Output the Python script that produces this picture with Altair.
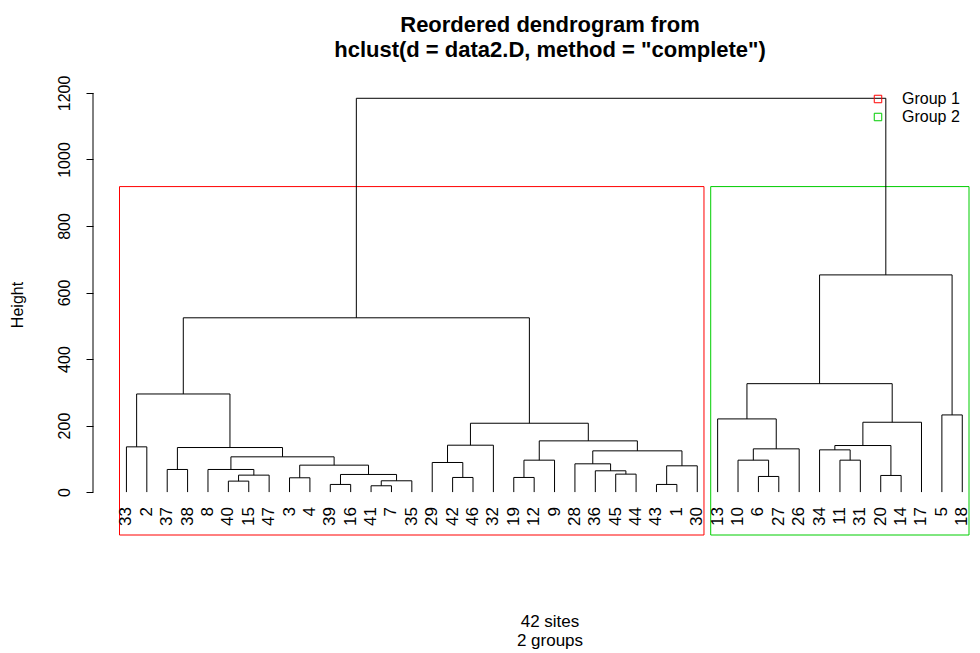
import altair as alt
import pandas as pd

# ---- data ----
leaf_order = [33, 2, 37, 38, 8, 40, 15, 47, 3, 4, 39, 16, 41, 7, 35, 29, 42, 46, 32,
              19, 12, 9, 28, 36, 45, 44, 43, 1, 30, 13, 10, 6, 27, 26, 34, 11, 31, 20,
              14, 17, 5, 18]

# R-style merge table: negative = leaf (site number), positive = earlier merge index
merge_left = [-41, -39, -43, -40, 1, -3, -42, -19, -6, -20, 4, 2, -45, -36, -37, -8, 3,
              6, -28, -29, 8, -10, -11, 16, 19, -34, 22, -33, 15, 26, 20, 21, 31, 30,
              -13, -5, 28, 35, 37, 38, 39]
merge_right = [-7, -16, -1, -15, -35, -4, -46, -12, -27, -14, -47, 5, -44, 13, -38, 11,
               -30, 12, 14, 7, -9, 9, -31, 18, 17, 23, -26, -2, 24, 10, -32, 25, 32,
               -17, 27, -18, 29, 34, 33, 36, 40]
merge_height = [19, 23, 23, 33, 34, 43, 44, 44, 47, 50, 51, 53, 54, 64, 68, 68, 79, 81,
                85, 89, 96, 96, 96, 106, 124, 127, 130, 136, 134, 140, 141, 154, 207,
                210, 220, 232, 295, 326, 524, 653, 1184]

group_names = ["Group 1", "Group 2"]
group_sizes = [29, 13]
group_colors = ["#FF0000", "#00CD00"]
y_ticks = [0, 200, 400, 600, 800, 1000, 1200]
title_lines = ["Reordered dendrogram from", 'hclust(d = data2.D, method = "complete")']
sub_lines = ["42 sites", "2 groups"]

# ---- build dendrogram segments from the merge table ----
pos = {leaf: i + 1 for i, leaf in enumerate(leaf_order)}
node_x, node_h = {}, {}
segs = []


def child(c):
    if c < 0:
        return pos[-c], 0.0
    return node_x[c], node_h[c]


for k, (l, r, h) in enumerate(zip(merge_left, merge_right, merge_height), start=1):
    xl, hl = child(l)
    xr, hr = child(r)
    segs.append({"x": xl, "x2": xl, "y": hl, "y2": h})
    segs.append({"x": xl, "x2": xr, "y": h, "y2": h})
    segs.append({"x": xr, "x2": xr, "y": hr, "y2": h})
    node_x[k] = (xl + xr) / 2
    node_h[k] = h

seg_df = pd.DataFrame(segs)
leaf_df = pd.DataFrame({"pos": list(range(1, len(leaf_order) + 1)),
                        "label": [str(v) for v in leaf_order]})

# group rectangles like rect.hclust
cut = sorted(merge_height)[-2:]
cut_h = sum(cut) / 2
starts = []
s = 1
for n in group_sizes:
    starts.append(s)
    s += n
n_leaves = len(leaf_order)
x_min = 1 - 0.04 * (n_leaves - 1)
x_max = n_leaves + 0.33
y_min = -129
y_max = 1254
rect_df = pd.DataFrame({
    "group": group_names,
    "x": [st - 0.34 for st in starts],
    "x2": [st + n - 1 + 0.33 for st, n in zip(starts, group_sizes)],
    "y": [y_min] * len(group_names),
    "y2": [cut_h] * len(group_names),
})

FONT = "Liberation Sans"
xs = alt.Scale(domain=[x_min, x_max], nice=False, zero=False)
ys = alt.Scale(domain=[y_min, y_max], nice=False, zero=False)

color_scale = alt.Scale(domain=group_names, range=group_colors)

rects = alt.Chart(rect_df).mark_rect(fillOpacity=0, strokeWidth=1).encode(
    x=alt.X("x:Q", scale=xs, axis=None),
    x2="x2:Q",
    y=alt.Y("y:Q", scale=ys),
    y2="y2:Q",
    stroke=alt.Stroke("group:N", scale=color_scale, legend=None),
)

tree = alt.Chart(seg_df).mark_rule(color="black", strokeWidth=1).encode(
    x=alt.X("x:Q", scale=xs, axis=None),
    x2="x2:Q",
    y=alt.Y("y:Q", scale=ys, axis=alt.Axis(
        values=y_ticks, format="d", domain=False, grid=False, ticks=True, tickSize=7,
        tickColor="black", tickWidth=1, labelAngle=270, labelAlign="center",
        labelBaseline="alphabetic", labelPadding=17, labelFont=FONT,
        labelFontSize=16, labelColor="black", title=None)),
    y2="y2:Q",
)

yaxis_line = alt.Chart(pd.DataFrame({"lo": [min(y_ticks)], "hi": [max(y_ticks)]})).mark_rule(
    color="black", strokeWidth=1).encode(
    x=alt.value(0),
    y=alt.Y("lo:Q", scale=ys),
    y2="hi:Q",
)

leaves = alt.Chart(leaf_df).mark_text(
    angle=270, align="right", baseline="middle", font=FONT, fontSize=17, color="black"
).encode(
    x=alt.X("pos:Q", scale=xs, axis=None),
    y=alt.value(432),
    text="label:N",
)


def text_layer(txt, ypix, size, bold=False, xpix=457, align="center", angle=0,
               color="black", baseline="alphabetic"):
    kw = dict(align=align, baseline=baseline, font=FONT, fontSize=size, color=color)
    if bold:
        kw["fontWeight"] = "bold"
    if angle:
        kw["angle"] = angle
    c = alt.Chart(pd.DataFrame({"t": [txt]})).mark_text(**kw)
    return c.encode(x=alt.value(xpix), y=alt.value(ypix), text="t:N")


layers = [rects, tree, yaxis_line, leaves]
layers.append(text_layer(title_lines[0], -43, 22, bold=True))
layers.append(text_layer(title_lines[1], -18, 22, bold=True))
layers.append(text_layer(sub_lines[0], 552, 17))
layers.append(text_layer(sub_lines[1], 571, 17))
layers.append(text_layer("Height", 230, 16, xpix=-75, angle=270, baseline="middle"))

for i, (g, c) in enumerate(zip(group_names, group_colors)):
    ly = 24 + 18 * i
    sq = alt.Chart(pd.DataFrame({"g": [g]})).mark_point(
        shape="square", filled=False, size=56, strokeWidth=1, color=c, opacity=1
    ).encode(x=alt.value(785), y=alt.value(ly))
    layers.append(sq)
    layers.append(text_layer(g, ly, 16, xpix=809, align="left", baseline="middle"))

chart = alt.layer(*layers).properties(
    width=876,
    height=460,
    padding={"left": 85, "top": 67, "right": 3, "bottom": 118},
    autosize=alt.AutoSizeParams(type="none"),
).configure_view(stroke=None)

chart.save("out.html", embed_options={"renderer": "svg", "actions": False})
